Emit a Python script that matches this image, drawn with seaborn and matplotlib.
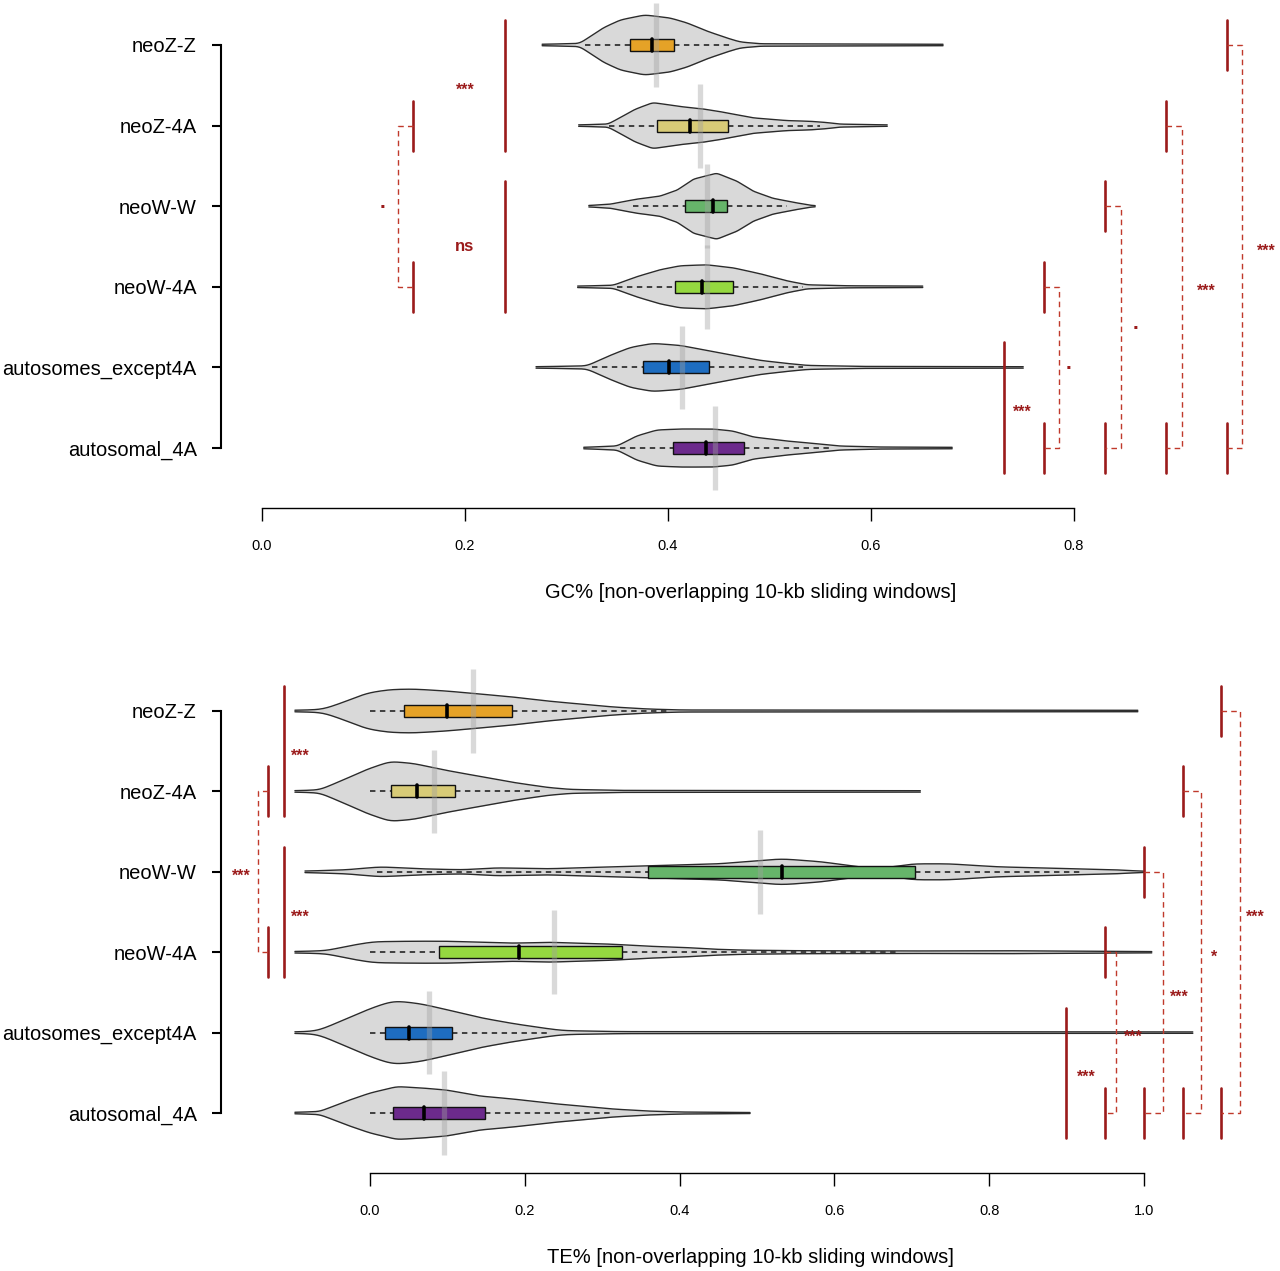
import numpy as np
import matplotlib
matplotlib.use("Agg")
import matplotlib.pyplot as plt
from matplotlib.patches import Rectangle
import seaborn as sns

# ---------- Setup ----------
sns.set_style("ticks")
plt.rcParams['font.family'] = ['Liberation Sans', 'DejaVu Sans']
plt.rcParams.update({"text.color": "black", "axes.labelcolor": "black",
                     "xtick.color": "black", "ytick.color": "black"})

groups = ["neoZ-Z", "neoZ-4A", "neoW-W", "neoW-4A", "autosomes_except4A", "autosomal_4A"]
box_colors = ["#E5A227", "#D8CB77", "#66B46A", "#95D840", "#1E6DC0", "#6C2A8C"]

# ---------- GC% data ----------
# violin outlines: x values and half-widths (density, 80 ~ one row)
gc_dens_x = [
    [0.276, 0.313, 0.336, 0.353, 0.377, 0.402, 0.419, 0.438, 0.458, 0.471, 0.491, 0.671],
    [0.312, 0.341, 0.353, 0.367, 0.385, 0.412, 0.432, 0.451, 0.484, 0.517, 0.540, 0.557, 0.569, 0.616],
    [0.322, 0.343, 0.369, 0.392, 0.409, 0.425, 0.448, 0.468, 0.484, 0.503, 0.523, 0.540, 0.545],
    [0.311, 0.346, 0.369, 0.392, 0.412, 0.438, 0.464, 0.491, 0.517, 0.537, 0.579, 0.651],
    [0.270, 0.320, 0.343, 0.363, 0.385, 0.412, 0.438, 0.464, 0.491, 0.517, 0.537, 0.589, 0.750],
    [0.317, 0.350, 0.369, 0.389, 0.412, 0.444, 0.464, 0.484, 0.517, 0.550, 0.569, 0.609, 0.680],
]
gc_dens_w = [
    [0.7, 1.5, 17, 25, 30, 27, 22, 14, 7, 3, 1.2, 0.7],
    [0.7, 1.5, 8, 16, 23, 19, 17, 14, 7.7, 5, 4.3, 3, 1.5, 0.7],
    [0.7, 2, 7, 10, 16, 27, 33, 25, 15, 8, 4, 1, 0.5],
    [0.7, 1.5, 10, 17, 21, 22, 19, 13, 6, 2, 1, 0.7],
    [0.7, 1.5, 12, 20, 24, 22, 17, 12, 7, 4, 2, 1, 0.7],
    [0.7, 2, 12, 18, 19, 19, 17, 11, 7, 4, 2, 1, 0.7],
]
gc_q1 = [0.363, 0.389, 0.417, 0.407, 0.375, 0.405]
gc_med = [0.384, 0.422, 0.444, 0.434, 0.401, 0.437]
gc_q3 = [0.406, 0.459, 0.458, 0.464, 0.440, 0.475]
gc_wlo = [0.318, 0.342, 0.366, 0.350, 0.325, 0.353]
gc_whi = [0.464, 0.550, 0.517, 0.533, 0.533, 0.563]
gc_mean = [0.388, 0.432, 0.438, 0.438, 0.414, 0.446]

# ---------- TE% data ----------
te_dens_x = [
    [-0.097, -0.061, -0.030, -0.004, 0.026, 0.056, 0.099, 0.142, 0.185, 0.229, 0.271, 0.314, 0.358, 0.401, 0.992],
    [-0.097, -0.065, -0.030, -0.004, 0.026, 0.056, 0.099, 0.142, 0.185, 0.229, 0.258, 0.323, 0.711],
    [-0.084, -0.030, 0.013, 0.065, 0.120, 0.164, 0.229, 0.271, 0.314, 0.358, 0.451, 0.532, 0.584,
     0.630, 0.656, 0.702, 0.748, 0.810, 0.860, 0.912, 0.964, 1.0],
    [-0.097, -0.056, -0.030, 0.004, 0.056, 0.099, 0.142, 0.185, 0.229, 0.271, 0.314, 0.358, 0.401,
     0.443, 0.487, 0.556, 0.685, 0.814, 0.930, 1.010],
    [-0.097, -0.068, -0.030, 0.0, 0.030, 0.065, 0.099, 0.142, 0.185, 0.229, 0.249, 0.323, 1.063],
    [-0.097, -0.065, -0.030, 0.0, 0.035, 0.068, 0.099, 0.142, 0.185, 0.229, 0.271, 0.314, 0.358, 0.401, 0.491],
]
te_dens_w = [
    [0.7, 1.5, 10, 18, 21.5, 22, 20, 17, 14, 10, 7, 4, 2, 1, 0.7],
    [0.7, 1.5, 13, 22, 30, 28, 21, 15, 9, 4, 2, 1, 0.7],
    [0.7, 2, 5, 3, 2, 4, 3, 4, 5, 6, 8, 13, 10, 5, 3, 8, 8, 5, 4, 3, 2, 0.5],
    [0.7, 1.5, 6, 10.5, 11, 11, 10, 9, 10, 9, 8, 6, 5, 3, 2, 1.5, 1.2, 1.5, 1, 0.6],
    [0.7, 1.5, 14, 24, 32, 29, 23, 15, 9, 4, 2, 1, 0.7],
    [0.7, 1.5, 12, 20, 26.5, 25, 23, 17, 14, 10, 7, 4, 2, 1, 0.5],
]
te_q1 = [0.044, 0.027, 0.359, 0.089, 0.020, 0.030]
te_med = [0.099, 0.061, 0.532, 0.192, 0.050, 0.070]
te_q3 = [0.184, 0.110, 0.704, 0.326, 0.106, 0.149]
te_wlo = [0.0, 0.0, 0.009, 0.0, 0.0, 0.0]
te_whi = [0.388, 0.220, 0.921, 0.685, 0.233, 0.314]
te_mean = [0.133, 0.083, 0.504, 0.238, 0.076, 0.096]

# ---------- significance annotations ----------
# spans: (row a, row b, x of line, label, label x)
gc_spans = [(0, 1, 0.2394, "***", 0.200), (2, 3, 0.2394, "ns", 0.200), (4, 5, 0.731, "***", 0.749)]
# brackets: (row a, row b, tick x, bracket x, label, label x)
gc_brackets = [(1, 3, 0.149, 0.134, ".", 0.119), (3, 5, 0.770, 0.785, ".", 0.795),
               (2, 5, 0.8305, 0.846, ".", 0.861), (1, 5, 0.8906, 0.906, "***", 0.930),
               (0, 5, 0.9507, 0.9655, "***", 0.990)]
te_spans = [(0, 1, -0.1111, "***", -0.0904), (2, 3, -0.1111, "***", -0.0904), (4, 5, 0.8992, "***", 0.925)]
te_brackets = [(1, 3, -0.1318, -0.1447, "***", -0.1667), (3, 5, 0.9496, 0.9638, "***", 0.9858),
               (2, 5, 1.0, 1.0245, "***", 1.0452), (1, 5, 1.0504, 1.0736, "*", 1.0904),
               (0, 5, 1.0995, 1.124, "***", 1.1434)]

RED = "#9B1B1B"


def smooth(y, sigma=5):
    k = np.exp(-0.5 * (np.arange(-3 * sigma, 3 * sigma + 1) / sigma) ** 2)
    k /= k.sum()
    return np.convolve(np.pad(y, 3 * sigma, mode="edge"), k, mode="valid")


def sig_label(ax, x, y, lab):
    if lab == "ns":
        ax.text(x, y, lab, color=RED, ha="center", va="center", fontsize=12,
                fontweight="bold", zorder=8)
    elif lab == ".":
        ax.text(x, y - 0.05, lab, color=RED, ha="center", va="center", fontsize=15,
                fontweight="bold", zorder=8)
    else:
        ax.text(x, y + 0.06, lab, color=RED, ha="center", va="center", fontsize=11.5,
                fontweight="bold", zorder=8)


def draw_panel(ax, dx, dw, q1, med, q3, wlo, whi, means, spans, brackets):
    bh = 0.075
    for i in range(len(groups)):
        xs = np.linspace(dx[i][0], dx[i][-1], 600)
        w = smooth(np.interp(xs, dx[i], dw[i])) / 80.5
        ax.fill_between(xs, i - w, i + w, color="#D9D9D9", lw=0, zorder=1)
        ax.plot(xs, i - w, color="#2b2b2b", lw=1.0, zorder=2)
        ax.plot(xs, i + w, color="#2b2b2b", lw=1.0, zorder=2)
        ax.plot([wlo[i], q1[i]], [i, i], ls=(0, (3, 2.5)), color="#333333", lw=1.3, zorder=3)
        ax.plot([q3[i], whi[i]], [i, i], ls=(0, (3, 2.5)), color="#333333", lw=1.3, zorder=3)
        ax.add_patch(Rectangle((q1[i], i - bh), q3[i] - q1[i], 2 * bh, fc=box_colors[i],
                               ec="#111111", lw=1.0, zorder=4))
        ax.plot([med[i], med[i]], [i - bh, i + bh], color="black", lw=2.6, zorder=5)
        ax.plot([means[i], means[i]], [i - 0.52, i + 0.52], color="#a0a0a0", alpha=0.4,
                lw=3.8, solid_capstyle="butt", zorder=6)

    h = 0.31
    for a, b, x, lab, lx in spans:
        ax.plot([x, x], [a - h, b + h], color=RED, lw=1.9, zorder=7)
        sig_label(ax, lx, (a + b) / 2, lab)
    for a, b, x, xb, lab, lx in brackets:
        for r in (a, b):
            ax.plot([x, x], [r - h, r + h], color=RED, lw=1.9, zorder=7)
        ax.plot([x, xb, xb, x], [a, a, b, b], color="#C0392B", lw=1.0, ls=(0, (4, 3)), zorder=7)
        sig_label(ax, lx, (a + b) / 2, lab)

    for s in ["top", "right"]:
        ax.spines[s].set_visible(False)
    ax.spines["left"].set_bounds(0, 5)
    ax.spines["left"].set_linewidth(1.5)
    ax.spines["left"].set_color("black")
    ax.spines["bottom"].set_linewidth(1.0)
    ax.spines["bottom"].set_color("black")
    ax.set_yticks(range(len(groups)))
    ax.set_yticklabels(groups)
    ax.tick_params(axis="y", length=6.5, width=1.5, pad=11, labelsize=14.5, color="black")
    ax.tick_params(axis="x", length=9, width=1.0, pad=13, labelsize=10.5, color="black")


# ---------- Figure ----------
fig = plt.figure(figsize=(12.8, 12.71), dpi=100)

ax1 = fig.add_axes([221 / 1280, 1 - 508 / 1271, 1059 / 1280, 508 / 1271])
draw_panel(ax1, gc_dens_x, gc_dens_w, gc_q1, gc_med, gc_q3, gc_wlo, gc_whi, gc_mean,
           gc_spans, gc_brackets)
ax1.set_xlim(-0.0404, 1.003)
ax1.set_ylim(5.744, -0.558)
ax1.spines["bottom"].set_bounds(0, 0.8)
ax1.set_xticks([0.0, 0.2, 0.4, 0.6, 0.8])
ax1.set_xticklabels(["0.0", "0.2", "0.4", "0.6", "0.8"])
ax1.set_xlabel("GC% [non-overlapping 10-kb sliding windows]", fontsize=14.5, labelpad=22)

ax2 = fig.add_axes([221 / 1280, 1 - 1173 / 1271, 1059 / 1280, 533 / 1271])
draw_panel(ax2, te_dens_x, te_dens_w, te_q1, te_med, te_q3, te_wlo, te_whi, te_mean,
           te_spans, te_brackets)
ax2.set_xlim(-0.1925, 1.1757)
ax2.set_ylim(5.746, -0.883)
ax2.spines["bottom"].set_bounds(0, 1.0)
ax2.set_xticks([0.0, 0.2, 0.4, 0.6, 0.8, 1.0])
ax2.set_xticklabels(["0.0", "0.2", "0.4", "0.6", "0.8", "1.0"])
ax2.set_xlabel("TE% [non-overlapping 10-kb sliding windows]", fontsize=14.5, labelpad=22)

fig.savefig("out.png", dpi=100)
